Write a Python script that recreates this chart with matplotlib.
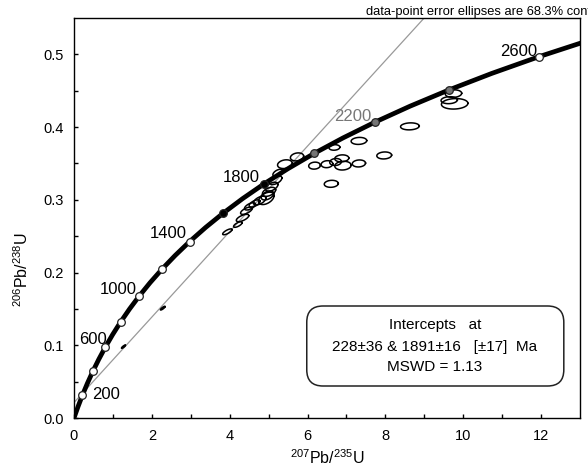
import numpy as np
import matplotlib
matplotlib.use('Agg')
import matplotlib.pyplot as plt
from matplotlib.patches import FancyBboxPatch

plt.rcParams['font.family'] = ['Liberation Sans', 'DejaVu Sans']
plt.rcParams['mathtext.fontset'] = 'custom'
plt.rcParams['mathtext.rm'] = 'Liberation Sans'
plt.rcParams['mathtext.it'] = 'Liberation Sans:italic'

# ---- Concordia curve (207Pb/235U, 206Pb/238U) every 100 Ma ----
conc_age = [0, 100, 200, 300, 400, 500, 600, 700, 800, 900, 1000, 1100, 1200, 1300,
            1400, 1500, 1600, 1700, 1800, 1900, 2000, 2100, 2200, 2300, 2400, 2500,
            2600, 2700]
conc_x = [0.0, 0.1035, 0.2177, 0.3437, 0.4828, 0.6363, 0.8056, 0.9925, 1.1987, 1.4263,
          1.6774, 1.9545, 2.2603, 2.5977, 2.9701, 3.3810, 3.8344, 4.3348, 4.8869, 5.4962,
          6.1685, 6.9105, 7.7292, 8.6326, 9.6296, 10.7297, 11.9437, 13.2834]
conc_y = [0.0, 0.01563, 0.03151, 0.04764, 0.06402, 0.08065, 0.09754, 0.11470, 0.13213,
          0.14983, 0.16780, 0.18606, 0.20460, 0.22343, 0.24256, 0.26198, 0.28171, 0.30175,
          0.32210, 0.34277, 0.36376, 0.38508, 0.40673, 0.42872, 0.45106, 0.47374, 0.49678,
          0.52018]

# ---- Age markers on concordia ----
marker_age = [200, 400, 600, 800, 1000, 1200, 1400, 1600, 1800, 2000, 2200, 2400, 2600]
marker_face = ['white'] * 7 + ['black', 'black', '#757575', '#757575', '#757575', 'white']
label_age = [200, 600, 1000, 1400, 1800, 2200, 2600]
label_color = ['black', 'black', 'black', 'black', 'black', '#777777', 'black']

# ---- Discordia intercepts (228 Ma and 1891 Ma) ----
lower_int = (0.2518, 0.03600)
upper_int = (5.4389, 0.34090)

# ---- Data-point error ellipses: centre, 1-sigma x, 1-sigma y, correlation ----
ell_x = [1.27, 2.28, 3.94, 4.21, 4.33, 4.43, 4.52, 4.64, 4.77, 4.94, 4.97, 5.01, 5.08,
         5.18, 5.24, 5.42, 5.73, 6.18, 6.50, 6.72, 6.91, 6.88, 7.32, 7.97, 6.61, 6.69,
         7.32, 8.63, 9.75, 9.64, 9.78]
ell_y = [0.098, 0.151, 0.256, 0.266, 0.275, 0.285, 0.291, 0.295, 0.299, 0.302, 0.306,
         0.311, 0.318, 0.327, 0.337, 0.349, 0.359, 0.347, 0.349, 0.352, 0.347, 0.357,
         0.350, 0.361, 0.322, 0.372, 0.381, 0.401, 0.446, 0.437, 0.432]
ell_sx = [0.05, 0.06, 0.12, 0.11, 0.16, 0.15, 0.14, 0.14, 0.16, 0.20, 0.16, 0.17, 0.16,
          0.16, 0.13, 0.19, 0.17, 0.15, 0.15, 0.15, 0.21, 0.18, 0.17, 0.19, 0.18, 0.14,
          0.20, 0.24, 0.21, 0.21, 0.34]
ell_sy = [0.0022, 0.0025, 0.0040, 0.0038, 0.0050, 0.0050, 0.0050, 0.0050, 0.0060, 0.0085,
          0.0062, 0.0062, 0.0062, 0.0060, 0.0050, 0.0060, 0.0055, 0.0048, 0.0048, 0.0048,
          0.0060, 0.0048, 0.0048, 0.0048, 0.0048, 0.0038, 0.0048, 0.0048, 0.0052, 0.0048,
          0.0072]
ell_rho = [0.85, 0.85, 0.75, 0.7, 0.65, 0.65, 0.6, 0.6, 0.55, 0.45, 0.45, 0.45, 0.5, 0.5,
           0.5, 0.2, 0.2, 0.1, 0.1, 0.1, 0.1, 0.1, 0.1, 0.1, 0.1, 0.1, 0.1, 0.1, 0.1, 0.1,
           0.1]

intercept_lines = ["Intercepts   at",
                   "228\u00b136 & 1891\u00b116   [\u00b117]  Ma",
                   "MSWD = 1.13"]

xticks = [0, 2, 4, 6, 8, 10, 12]
yticks = [0.0, 0.1, 0.2, 0.3, 0.4, 0.5]
ytick_labels = ['0.0', '0.1', '0.2', '0.3', '0.4', '0.5']

# ---------------- figure ----------------
fig = plt.figure(figsize=(5.88, 4.70), dpi=100)
ax = fig.add_axes([74 / 588, 1 - 418 / 470, (580 - 74) / 588, (418 - 18) / 470])
ax.set_xlim(0, 13)
ax.set_ylim(0, 0.55)

# discordia line
ax.axline(lower_int, upper_int, color='#999999', lw=0.9, zorder=2)

# error ellipses
t = np.linspace(0, 2 * np.pi, 100)
for cx, cy, sx, sy, r in zip(ell_x, ell_y, ell_sx, ell_sy, ell_rho):
    ex = cx + sx * np.cos(t)
    ey = cy + sy * (r * np.cos(t) + np.sqrt(1 - r * r) * np.sin(t))
    ax.plot(ex, ey, color='black', lw=1.1, zorder=3)

# concordia
ax.plot(conc_x, conc_y, color='black', lw=3.4, solid_capstyle='butt', zorder=4)
for age, fc in zip(marker_age, marker_face):
    i = conc_age.index(age)
    ax.plot(conc_x[i], conc_y[i], 'o', ms=5.5, mfc=fc, mec='#222222', mew=0.9, zorder=5)

label_offsets = {200: (7, -2.5, 'left'), 600: (1, 2, 'right'), 1000: (-2, 1.5, 'right'),
                 1400: (-2, 2.5, 'right'), 1800: (-3, 1.5, 'right'),
                 2200: (-2.5, 1, 'right'), 2600: (-1.5, 0.8, 'right')}
for age, col in zip(label_age, label_color):
    i = conc_age.index(age)
    dx, dy, ha = label_offsets[age]
    ax.annotate(str(age), (conc_x[i], conc_y[i]), xytext=(dx, dy),
                textcoords='offset points', ha=ha, va='baseline',
                fontsize=12, color=col, zorder=6)

# intercept box
aw = (580 - 74)
ah = (418 - 18)
box = FancyBboxPatch((0.46, 0.08), 0.968 - 0.46, 0.20,
                     boxstyle='round,pad=0,rounding_size=0.032',
                     mutation_aspect=aw / ah,
                     transform=ax.transAxes, fc='white', ec='#222222', lw=1.1, zorder=7)
ax.add_patch(box)
line_y = [(418 - 325) / 400, (418 - 347) / 400, (418 - 367) / 400]
for txt, yy in zip(intercept_lines, line_y):
    ax.text((435 - 74) / 506, yy, txt, transform=ax.transAxes, ha='center', va='center',
            fontsize=11, zorder=8)

# axes styling
ax.set_xticks(xticks)
ax.set_xticks(range(1, 13, 2), minor=True)
ax.set_yticks(yticks)
ax.set_yticklabels(ytick_labels)
ax.set_yticks(np.arange(0.05, 0.55, 0.1), minor=True)
ax.tick_params(which='both', direction='in', length=3, width=1, top=False, right=False)
ax.tick_params(which='major', labelsize=10.5)
ax.tick_params(axis='y', pad=7.5)
ax.tick_params(axis='x', pad=8)
for s in ax.spines.values():
    s.set_linewidth(1.0)

ax.set_xlabel(r'$^{207}$Pb/$^{235}$U', fontsize=11.5, labelpad=4)
ax.set_ylabel(r'$^{206}$Pb/$^{238}$U', fontsize=11.5)
ax.yaxis.set_label_coords(-0.085, 0.37)

fig.text(366 / 588, 1 - 15 / 470, 'data-point error ellipses are 68.3% conf.',
         fontsize=9.3, ha='left', va='baseline')

fig.savefig('out.png', dpi=100)
